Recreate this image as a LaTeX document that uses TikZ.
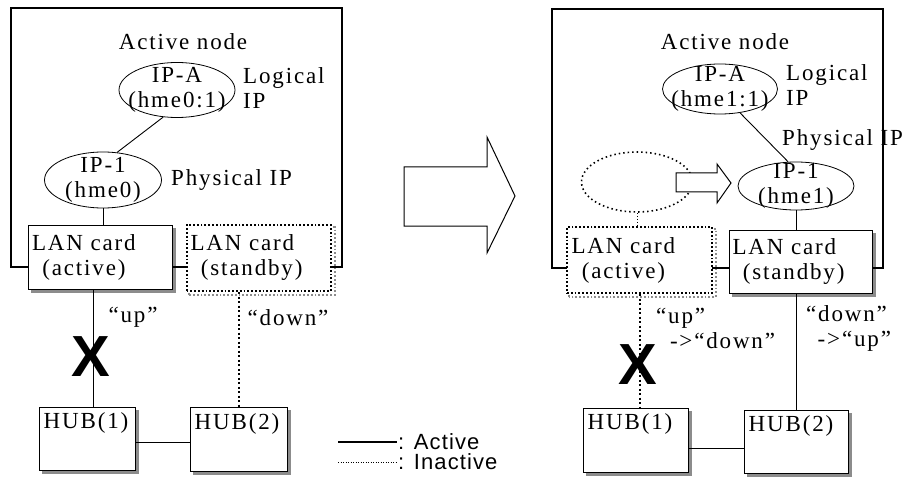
\documentclass[tikz,border=0pt]{standalone}
\usepackage{fontspec}
\setmainfont{Liberation Serif}[LetterSpace=8]
\newfontfamily\legendfont{Liberation Sans}[LetterSpace=5]
\usetikzlibrary{shapes.geometric,backgrounds}

\begin{document}
\begin{tikzpicture}[x=1pt,y=1pt,font=\fontsize{23}{25}\selectfont,
		frame/.style={draw,line width=1.2pt},
		wire/.style={line width=0.9pt},
		deadWire/.style={line width=2pt,dash pattern=on 2pt off 2.5pt},
		note/.style={align=left,inner sep=0pt},
		ipOval/.style={draw,ellipse,line width=0.8pt,inner sep=0pt,minimum width=116pt,minimum height=55pt},
		ipOvalOff/.style={draw,ellipse,line width=1.6pt,dash pattern=on 1.5pt off 3pt,inner sep=0pt},
		ipText/.style={align=center,inner sep=0pt},
		lanCard/.style={draw,fill=white,line width=1pt,minimum width=144pt,minimum height=64pt,text width=136pt,align=left,inner sep=3pt},
		lanCardOff/.style={lanCard,line width=2pt,dash pattern=on 1.8pt off 2pt},
		hubBox/.style={draw,fill=white,line width=1pt,minimum width=96pt,minimum height=63pt},
		hubText/.style={anchor=north west,inner xsep=5pt,inner ysep=6pt},
		cross/.style={font=\legendfont\bfseries\fontsize{58}{58}\selectfont,inner sep=0pt},
		legend/.style={font=\legendfont\fontsize{22}{24}\selectfont,inner sep=1pt}]
		\newcommand{\indentStep}{\hspace*{0.45em}}
		\newcommand{\boxShadow}[1]{\fill[black!45] ([shift={(3pt,-3pt)}]#1.south west) rectangle ([shift={(3pt,-3pt)}]#1.north east);}
		\newcommand{\dotShadow}[1]{\draw[black!45,line width=2pt,dash pattern=on 1.8pt off 2pt] ([shift={(3pt,-3pt)}]#1.south west) rectangle ([shift={(3pt,-3pt)}]#1.north east);}
		
		\useasboundingbox (0,0) rectangle (907,480);
		
		% left picture: before the switch
		\draw[frame] (11,213) rectangle (342,472);		% active node frame
		\node[note] (title1) at (183,438) {Active node};
		\node[ipOval,label={[ipText]center:IP-A\\(hme0:1)}] (ipa1) at (177,390) {};
		\node[note,anchor=west] (logic1) at (243,392) {Logical\\IP};
		\node[ipOval,minimum width=117pt,minimum height=56pt,label={[ipText]center:IP-1\\(hme0)}] (ip11) at (103,300) {};
		\node[note,anchor=west] (phys1) at (171,300) {Physical IP};
		\node[lanCard] (lan11) at (100,223) {LAN card\\\indentStep(active)};
		\node[lanCardOff,minimum height=66pt] (lan21) at (258.5,222) {LAN card\\\indentStep(standby)};
		\node[hubBox,label={[hubText]north west:HUB(1)}] (hub11) at (87,41.5) {};
		\node[hubBox,minimum width=97pt,minimum height=64pt,label={[hubText]north west:HUB(2)}] (hub21) at (238.5,40.5) {};
		
		\draw[wire] (ipa1.-117) -- (ip11.63);
		\draw[wire] (ip11.south) -- (ip11.south |- lan11.north);
		\draw[wire] ([xshift=-7pt]lan11.south) -- ([xshift=-7pt]lan11.south |- hub11.north);
		\draw[deadWire] (hub21.north |- lan21.south) -- (hub21.north);
		\draw[wire] ([yshift=-4pt]hub11.east) -- ([yshift=-4pt]hub11.east -| hub21.west);
		
		\node[note] (up1) at (133,163) {“up”};
		\node[note] (down1) at (288,162) {“down”};
		\node[cross] (x1) at (91,123) {X};
		
		% legend
		\coordinate (legA1) at (338,38);
		\coordinate (legA2) at (397,38);
		\coordinate (legI1) at (338,18);
		\coordinate (legI2) at (397,18);
		\draw[line width=2pt] (legA1) -- (legA2);
		\draw[line width=1pt,dash pattern=on 1pt off 1.5pt] (legI1) -- (legI2);
		\node[legend,anchor=west] (legA) at (legA2) {: Active};
		\node[legend,anchor=west] (legI) at (legI2) {: Inactive};
		
		% switch arrow
		\draw[line width=1pt] (404,313) -- (487,313) -- (487,343) -- (515,284) -- (487,227) -- (487,254) -- (404,254) -- cycle;
		
		% right picture: after the switch
		\draw[frame] (552,212) rectangle (883,471);		% active node frame
		\node[note] (title2) at (725,438) {Active node};
		\node[ipOval,minimum width=115pt,minimum height=50pt,label={[ipText]center:IP-A\\(hme1:1)}] (ipa2) at (720,391) {};
		\node[note,anchor=west] (logic2) at (786,395) {Logical\\IP};
		\node[note,anchor=west] (phys2) at (782,340) {Physical IP};
		\node[ipOvalOff,minimum width=111pt,minimum height=60pt] (old12) at (637,298) {};
		\node[ipOval,minimum width=116pt,minimum height=48pt,label={[ipText]center:IP-1\\(hme1)}] (ip12) at (796,294) {};
		\node[lanCardOff,minimum width=145pt,minimum height=66pt] (lan12) at (639.5,220) {LAN card\\\indentStep(active)};
		\node[lanCard,minimum width=143pt,minimum height=63pt] (lan22) at (800.5,218.5) {LAN card\\\indentStep(standby)};
		\node[hubBox,minimum width=105pt,minimum height=64pt,label={[hubText]north west:HUB(1)}] (hub12) at (635.5,40) {};
		\node[hubBox,minimum width=104pt,label={[hubText]north west:HUB(2)}] (hub22) at (796,38.5) {};
		
		\fill[white] (676,307) -- (717,307) -- (717,316) -- (731,297) -- (717,277) -- (717,288) -- (676,288) -- cycle;
		\draw[line width=1pt] (676,307) -- (717,307) -- (717,316) -- (731,297) -- (717,277) -- (717,288) -- (676,288) -- cycle;
		
		\draw[wire] (ipa2.-50) -- (ip12.108);
		\draw[line width=1pt,dash pattern=on 1pt off 2pt] (old12.south) -- (old12.south |- lan12.north);
		\draw[wire] (ip12.south) -- (ip12.south |- lan22.north);
		\draw[deadWire] ([xshift=4.5pt]hub12.north |- lan12.south) -- ([xshift=4.5pt]hub12.north);
		\draw[wire] (lan22.south -| hub22.north) -- (hub22.north);
		\draw[wire] ([yshift=-8pt]hub12.east) -- ([yshift=-8pt]hub12.east -| hub22.west);
		
		\node[cross] (x2) at (638,115) {X};
		\node[note,anchor=west] (up2) at (656,152) {“up”\\\hspace*{0.6em}->“down”};
		\node[note,anchor=west] (down2) at (806,152) {“down”\\\hspace*{0.5em}->“up”};
		
		% shadows behind the cards and hubs
		\begin{scope}[on background layer]
			\boxShadow{lan11} \dotShadow{lan21} \boxShadow{hub11} \boxShadow{hub21}
			\dotShadow{lan12} \boxShadow{lan22} \boxShadow{hub12} \boxShadow{hub22}
		\end{scope}
\end{tikzpicture}
\end{document}
